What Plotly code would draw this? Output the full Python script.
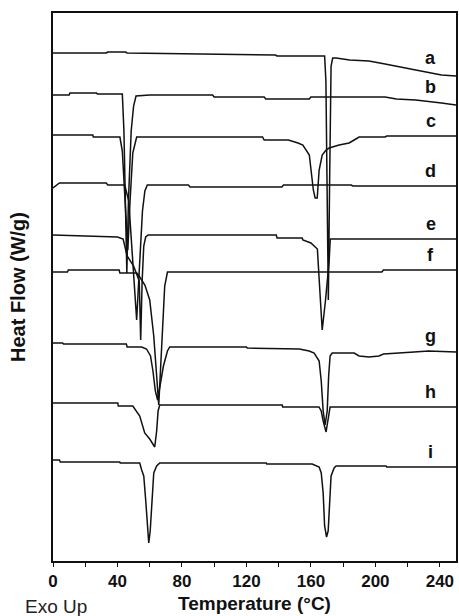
import numpy as np
import plotly.graph_objects as go

# Temperature (°C) / Heat flow (arbitrary offset units, W/g)
a_T = [0, 33, 34, 45, 46, 138, 139, 166, 168.5, 169.3, 170.0, 170.8, 171.6, 172.5, 173.5, 175.6, 184, 196, 206, 213, 225, 241, 250]
a_v = [5.08, 5.08, 5.09, 5.09, 5.08, 5.06, 5.05, 5.05, 5.05, 4.80, 3.80, 2.61, 3.80, 4.95, 5.03, 5.03, 5.01, 5.00, 4.97, 4.95, 4.91, 4.86, 4.85]

b_T = [0, 10, 10.5, 27, 27.5, 43.0, 44.0, 45.0, 45.8, 46.8, 48.5, 50.0, 51.5, 60, 99, 100, 131, 132, 159, 160, 206, 213, 225, 241, 250]
b_v = [4.66, 4.66, 4.68, 4.68, 4.67, 4.67, 4.30, 3.30, 2.88, 3.60, 4.30, 4.55, 4.65, 4.66, 4.66, 4.64, 4.64, 4.62, 4.62, 4.64, 4.64, 4.62, 4.61, 4.58, 4.56]

c_T = [0, 24.7, 25, 41.5, 43, 44.5, 46.4, 47.8, 49.5, 51.9, 130, 131, 146, 152, 155, 159, 161.5, 162.6, 163.9, 165.1, 167, 169.4, 171.3, 177.5, 183.7, 186.8, 189.9, 206, 207, 250]
c_v = [4.26, 4.26, 4.24, 4.24, 4.10, 3.60, 3.11, 3.60, 4.08, 4.24, 4.24, 4.21, 4.21, 4.18, 4.16, 4.06, 3.71, 3.63, 3.63, 3.91, 4.06, 4.11, 4.13, 4.16, 4.18, 4.21, 4.24, 4.24, 4.25, 4.25]

d_T = [0, 4, 6, 33, 34, 44.5, 47, 49, 51.9, 53.5, 55.5, 57, 58.5, 84, 85, 142, 143, 185, 186, 250]
d_v = [3.73, 3.78, 3.78, 3.78, 3.76, 3.76, 3.60, 3.10, 2.41, 2.90, 3.50, 3.70, 3.76, 3.76, 3.74, 3.74, 3.76, 3.76, 3.75, 3.75]

e_T = [0, 40, 43.5, 46, 50, 53.5, 54.4, 55.3, 56.3, 57.5, 59, 138.5, 139, 154.6, 155, 160, 164, 166.2, 167, 169, 171.3, 172, 250]
e_v = [3.26, 3.24, 3.22, 3.05, 2.95, 2.80, 2.21, 2.80, 3.15, 3.24, 3.26, 3.26, 3.23, 3.23, 3.21, 3.18, 3.12, 2.60, 2.31, 2.60, 3.00, 3.22, 3.22]

f_T = [0, 9, 9.5, 41, 41.5, 52, 53, 57, 60, 62.5, 65.6, 67.5, 69.3, 71, 204, 205, 250]
f_v = [2.89, 2.89, 2.91, 2.91, 2.88, 2.88, 2.86, 2.76, 2.61, 2.25, 1.56, 2.20, 2.75, 2.89, 2.89, 2.91, 2.91]

g_T = [0, 6, 6.5, 45.5, 46, 55, 58, 60.5, 62, 63.5, 64.9, 66.5, 68.5, 71, 72.4, 120, 120.5, 152.8, 158.9, 162, 165.1, 166.4, 167.6, 168.8, 170.1, 171.0, 171.9, 173.2, 186.8, 189.9, 196, 202.2, 205, 224, 233, 250]
g_v = [2.18, 2.18, 2.17, 2.17, 2.14, 2.14, 2.12, 2.05, 1.90, 1.70, 1.61, 1.75, 1.95, 2.10, 2.14, 2.14, 2.13, 2.12, 2.10, 2.08, 2.00, 1.80, 1.50, 1.36, 1.50, 1.85, 2.05, 2.08, 2.08, 2.05, 2.04, 2.05, 2.07, 2.09, 2.10, 2.09]

h_T = [0, 40.2, 40.5, 49.5, 53.8, 55.7, 56.9, 60.0, 63.1, 64.3, 65.2, 66.2, 142.2, 142.5, 165, 166.4, 167.6, 169.4, 170.7, 171.9, 250]
h_v = [1.58, 1.58, 1.55, 1.55, 1.45, 1.33, 1.28, 1.22, 1.14, 1.30, 1.50, 1.56, 1.56, 1.54, 1.54, 1.50, 1.40, 1.29, 1.45, 1.54, 1.54]

i_T = [0, 4, 4.5, 41.4, 41.7, 53.8, 55.0, 56.3, 57.5, 58.8, 59.4, 60.3, 61.2, 62.5, 64.3, 66.2, 132.3, 132.6, 160.8, 165.1, 166.4, 167.6, 168.5, 169.7, 170.7, 171.6, 172.5, 174.4, 175.6, 206.6, 207, 250]
i_v = [1.01, 1.01, 0.99, 0.99, 0.98, 0.98, 0.91, 0.85, 0.61, 0.30, 0.18, 0.30, 0.60, 0.88, 0.95, 0.98, 0.98, 0.97, 0.97, 0.94, 0.88, 0.68, 0.35, 0.24, 0.30, 0.61, 0.85, 0.93, 0.95, 0.95, 0.94, 0.94]

labels = ["a", "b", "c", "d", "e", "f", "g", "h", "i"]
series_T = [a_T, b_T, c_T, d_T, e_T, f_T, g_T, h_T, i_T]
series_v = [a_v, b_v, c_v, d_v, e_v, f_v, g_v, h_v, i_v]

x_ticks = [0, 40, 80, 120, 160, 200, 240]
x_title = "Temperature (°C)"
y_title = "Heat Flow (W/g)"
corner_text = "Exo Up"

LABEL_T = 234.4
LINE = "#111111"

fig = go.Figure()
for name, T, v in zip(labels, series_T, series_v):
    fig.add_trace(go.Scatter(x=T, y=v, mode="lines", name=name,
                             line=dict(color=LINE, width=1.5), showlegend=False,
                             hoverinfo="skip"))

annotations = []
for name, T, v in zip(labels, series_T, series_v):
    yv = float(np.interp(LABEL_T, T, v))
    annotations.append(dict(x=LABEL_T, y=yv, xref="x", yref="y", text=name,
                            showarrow=False, yshift=15, xanchor="center", yanchor="middle",
                            font=dict(family="Liberation Sans", size=18, color="#111", weight="bold")))

annotations.append(dict(x=0.5, y=0, xref="paper", yref="paper", text=x_title, showarrow=False,
                        yshift=-42, xanchor="center", yanchor="middle",
                        font=dict(family="Liberation Sans", size=19, color="#111", weight="bold")))
annotations.append(dict(x=0, y=0.5, xref="paper", yref="paper", text=y_title, showarrow=False,
                        xshift=-35, textangle=-90, xanchor="center", yanchor="middle",
                        font=dict(family="Liberation Sans", size=20, color="#111", weight="bold")))
annotations.append(dict(x=0, y=0, xref="paper", yref="paper", text=corner_text, showarrow=False,
                        xshift=3, yshift=-45, xanchor="center", yanchor="middle",
                        font=dict(family="Liberation Sans", size=19, color="#222")))

fig.update_layout(
    width=459, height=616,
    margin=dict(l=53, r=1, t=13, b=55),
    paper_bgcolor="white", plot_bgcolor="white",
    annotations=annotations,
    xaxis=dict(range=[0, 250], tickvals=x_ticks, ticks="outside", ticklen=4, tickwidth=1.2,
               tickcolor="#111", showline=True, linecolor="#111", linewidth=1.5, mirror=True,
               showgrid=False, zeroline=False,
               minor=dict(dtick=20, tick0=0, ticks="outside", ticklen=4, tickcolor="#111", showgrid=False),
               tickfont=dict(family="Liberation Sans", size=17, color="#111", weight="bold")),
    yaxis=dict(range=[0, 5.48], showticklabels=False, ticks="", showline=True, linecolor="#111",
               linewidth=1.5, mirror=True, showgrid=False, zeroline=False),
)

fig.write_html("out.html")
